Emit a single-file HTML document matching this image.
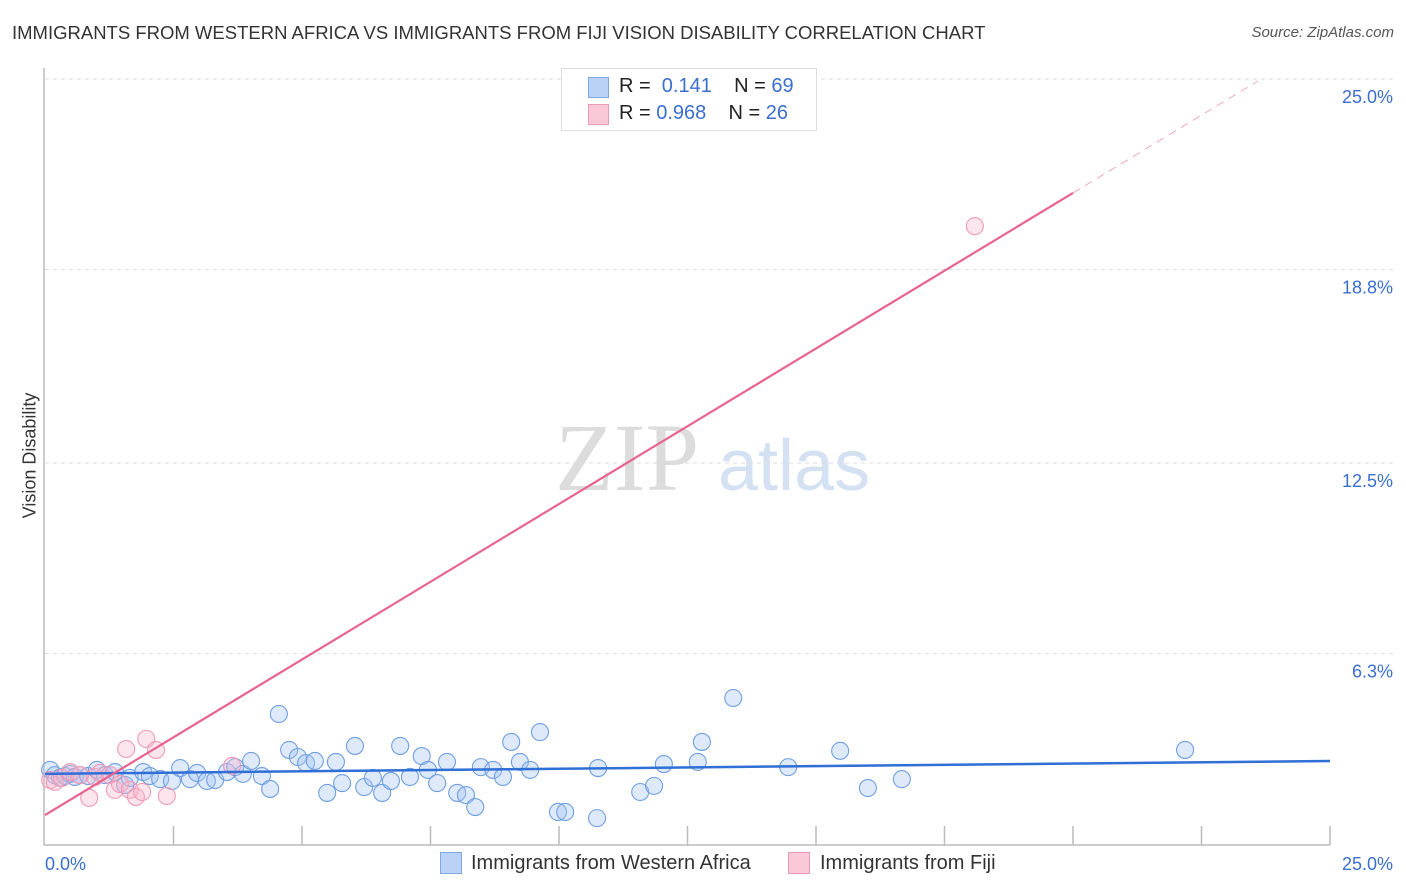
<!DOCTYPE html>
<html><head><meta charset="utf-8">
<style>
body{margin:0;background:#fff;font-family:"Liberation Sans",sans-serif;}
#wrap{position:relative;width:1406px;height:892px;overflow:hidden;}
.t{position:absolute;white-space:nowrap;}
</style></head>
<body>
<div id="wrap">
<div class="t" style="left:12px;top:22px;font-size:18.5px;color:#333;">IMMIGRANTS FROM WESTERN AFRICA VS IMMIGRANTS FROM FIJI VISION DISABILITY CORRELATION CHART</div>
<div class="t" style="right:12px;top:24px;font-size:15px;color:#555;font-style:italic;">Source: ZipAtlas.com</div>
<div class="t" style="left:-40px;top:445px;font-size:18px;color:#333;transform:rotate(-90deg);transform-origin:center;width:140px;text-align:center;">Vision Disability</div>
<svg id="svg" width="1406" height="892" style="position:absolute;left:0;top:0;">
<text x="555" y="490" font-family="Liberation Serif" font-size="96" fill="#dcdcdc">ZIP</text>
<text x="718" y="490" font-family="Liberation Sans" font-size="72" fill="#d3e1f3">atlas</text>
</svg>
<div class="t" style="left:561px;top:68px;width:254px;height:61px;border:1px solid #ddd;background:#fff;">
 <div style="position:absolute;left:26px;top:8px;width:19px;height:19px;background:#b9d2f5;border:1px solid #7ea6e0;"></div>
 <div style="position:absolute;left:26px;top:35px;width:19px;height:19px;background:#fbc8d8;border:1px solid #ee9ab6;"></div>
 <div class="t" style="left:57px;top:6px;font-size:20px;color:#222;">R = &nbsp;<span style="color:#3a6fd0">0.141</span>&nbsp;&nbsp;&nbsp; N = <span style="color:#3a6fd0">69</span></div>
 <div class="t" style="left:57px;top:33px;font-size:20px;color:#222;">R = <span style="color:#3a6fd0">0.968</span>&nbsp;&nbsp;&nbsp; N = <span style="color:#3a6fd0">26</span></div>
</div>
<div class="t" style="left:440px;top:852px;width:20px;height:20px;background:#b9d2f5;border:1px solid #7ea6e0;"></div>
<div class="t" style="left:471px;top:852px;font-size:20px;color:#333;">Immigrants from Western Africa</div>
<div class="t" style="left:788px;top:852px;width:20px;height:20px;background:#fbc8d8;border:1px solid #ee9ab6;"></div>
<div class="t" style="left:820px;top:852px;font-size:20px;color:#333;">Immigrants from Fiji</div>
</div>
<script>
const yTicks=[6.3,12.5,18.8,25.0];
const xTickLabels=["0.0%","25.0%"];
const blueX=[0.10,0.19,0.29,0.39,0.49,0.58,0.68,0.84,1.01,1.17,1.36,1.56,1.65,1.91,2.04,2.24,2.47,2.63,2.82,2.96,3.15,3.31,3.54,3.70,3.85,4.01,4.22,4.38,4.55,4.75,4.92,5.08,5.25,5.49,5.66,5.78,6.03,6.21,6.38,6.56,6.73,6.91,7.10,7.33,7.45,7.63,7.82,8.02,8.19,8.37,8.48,8.72,8.91,9.07,9.24,9.44,9.63,9.98,10.12,10.74,10.76,11.58,11.85,12.04,12.70,12.78,13.39,14.46,15.47,16.01,16.67,22.18];
const blueY=[2.51,2.34,2.25,2.31,2.38,2.28,2.34,2.31,2.51,2.34,2.44,2.02,2.25,2.44,2.31,2.21,2.15,2.57,2.21,2.41,2.15,2.18,2.44,2.60,2.38,2.80,2.31,1.89,4.33,3.16,2.93,2.73,2.80,1.76,2.77,2.08,3.29,1.95,2.25,1.76,2.15,3.29,2.28,2.96,2.51,2.08,2.77,1.76,1.69,1.30,2.60,2.51,2.28,3.42,2.77,2.51,3.74,1.14,1.14,0.94,2.57,1.79,1.99,2.70,2.77,3.42,4.85,2.60,3.13,1.92,2.21,3.16];
const pinkX=[0.10,0.19,0.33,0.49,0.68,0.86,0.97,1.07,1.26,1.36,1.46,1.58,1.65,1.77,1.89,1.97,2.16,2.37,3.64,18.09];
const pinkY=[2.18,2.12,2.25,2.44,2.34,1.60,2.28,2.41,2.34,1.86,2.05,3.19,1.86,1.63,1.79,3.52,3.16,1.66,2.64,20.21];
const blueTrend=[2.38,2.80];
const pinkTrend=[1.04,1.0125];
const X0=45,X1=1330,Y0=847,PPY=30.72;
const sx=v=>X0+v/25*(X1-X0), sy=v=>Y0-v*PPY;
const svg=document.getElementById('svg');const NS='http://www.w3.org/2000/svg';
function mk(tag,attrs){const e=document.createElementNS(NS,tag);for(const k in attrs)e.setAttribute(k,attrs[k]);svg.appendChild(e);return e;}
yTicks.forEach(v=>{
 const g=mk('line',{x1:X0,x2:1395,y1:sy(v),y2:sy(v),stroke:'#ddd','stroke-dasharray':'4,4'});
 
 
 const t=mk('text',{x:1393,y:sy(v)+24,'text-anchor':'end','font-size':18,fill:'#3a6fd0','font-family':'Liberation Sans'});
 t.textContent=v.toFixed(1)+'%';
 
 
});
let a=mk('line',{x1:44,x2:44,y1:68,y2:845,stroke:'#bbb','stroke-width':1.5});


a=mk('line',{x1:44,x2:1330,y1:845,y2:845,stroke:'#bbb','stroke-width':1.5});


for(let i=1;i<=10;i++){const xx=X0+i*(X1-X0)/10;
 const tk=mk('line',{x1:xx,x2:xx,y1:826,y2:845,stroke:'#bbb','stroke-width':1.5});
 
 }
[[45,'start'],[1393,'end']].forEach((p,i)=>{const t=mk('text',{x:p[0],y:870,'text-anchor':p[1],'font-size':18,fill:'#3a6fd0','font-family':'Liberation Sans'});t.textContent=xTickLabels[i];
 
 });
blueX.forEach((x,i)=>{const c=mk('circle',{cx:sx(x),cy:sy(blueY[i]),r:8.5,fill:'rgba(160,195,240,0.35)',stroke:'#6f9fe3','stroke-width':1.1});
 
 });
pinkX.forEach((x,i)=>{const c=mk('circle',{cx:sx(x),cy:sy(pinkY[i]),r:8.5,fill:'rgba(248,180,202,0.35)',stroke:'#ef9ab6','stroke-width':1.1});
 
 });
let l=mk('line',{x1:sx(0),y1:sy(blueTrend[0]),x2:sx(25),y2:sy(blueTrend[1]),stroke:'#2f6fd6','stroke-width':2.5});


l=mk('line',{x1:sx(0),y1:sy(pinkTrend[0]),x2:sx(20),y2:sy(pinkTrend[0]+pinkTrend[1]*20),stroke:'#e8648f','stroke-width':2.2});


l=mk('line',{x1:sx(20),y1:sy(pinkTrend[0]+pinkTrend[1]*20),x2:sx(23.6),y2:sy(pinkTrend[0]+pinkTrend[1]*23.6),stroke:'#f0a8c0','stroke-width':1,'stroke-dasharray':'8,6'});


</script>
</body></html>
